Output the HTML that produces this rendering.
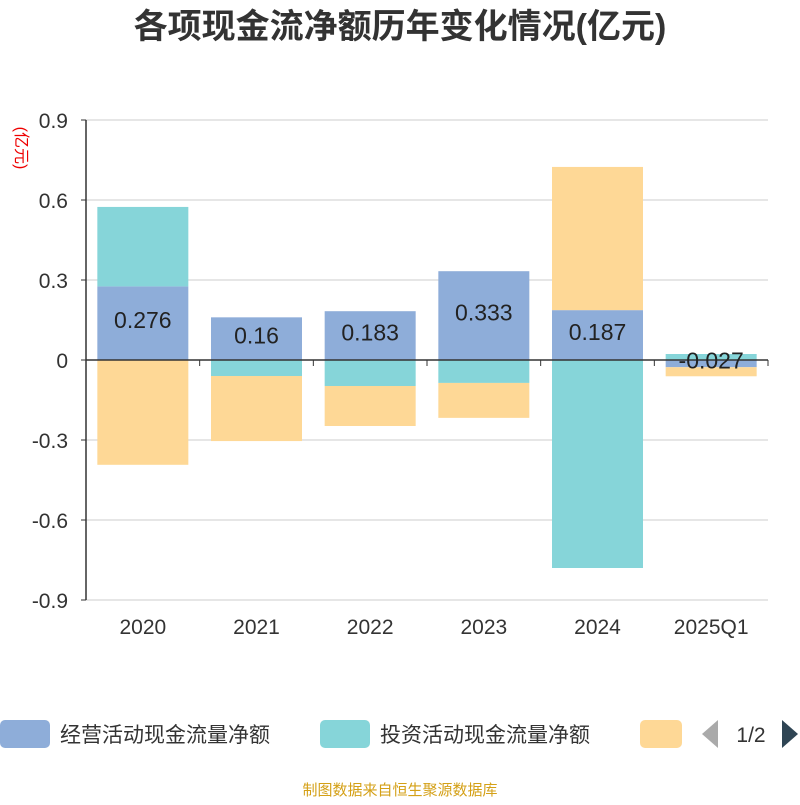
<!DOCTYPE html>
<html><head><meta charset="utf-8"><style>
body{margin:0;background:#fff;width:800px;height:800px;overflow:hidden;font-family:"Liberation Sans","Noto Sans CJK SC",sans-serif}
</style></head><body>
<svg width="800" height="800" xmlns="http://www.w3.org/2000/svg" font-family="Liberation Sans, Noto Sans CJK SC, sans-serif">
<text x="400" y="38" text-anchor="middle" font-size="34" font-weight="bold" fill="#333">各项现金流净额历年变化情况(亿元)</text>
<text transform="translate(16,148) rotate(90)" text-anchor="middle" font-size="16" fill="#e00">(亿元)</text>
<g id="grid"></g><g id="bars"></g><g id="axes"></g><g id="labels"></g>
<g>
<rect x="0" y="720" width="50" height="28" rx="5" fill="#8eadd9"/>
<text x="60" y="742" font-size="21" fill="#333">经营活动现金流量净额</text>
<rect x="320" y="720" width="50" height="28" rx="5" fill="#86d5d9"/>
<text x="380" y="742" font-size="21" fill="#333">投资活动现金流量净额</text>
<rect x="640" y="720" width="42" height="28" rx="5" fill="#fed896"/>
<polygon points="718,720 718,748 702,734" fill="#aaa"/>
<text x="751" y="742" text-anchor="middle" font-size="21" fill="#333">1/2</text>
<polygon points="782,720 782,748 798,734" fill="#2f4554"/>
</g>
<text x="400" y="795" text-anchor="middle" font-size="15" fill="#d4a017">制图数据来自恒生聚源数据库</text>
</svg>
<script>
const categories=["2020","2021","2022","2023","2024","2025Q1"];
const operating=[0.276,0.16,0.183,0.333,0.187,-0.027];
const investing=[0.298,-0.06,-0.0975,-0.086,-0.78,0.0225];
const financing=[-0.393,-0.244,-0.15,-0.131,0.537,-0.034];
const yTicks=[0.9,0.6,0.3,0,-0.3,-0.6,-0.9];
const tickLabels=["0.9","0.6","0.3","0","-0.3","-0.6","-0.9"];
const NS="http://www.w3.org/2000/svg";
const x0=86,x1=768,yTop=120,yBot=600,yMin=-0.9,yMax=0.9;
const y=v=>yTop+(yMax-v)/(yMax-yMin)*(yBot-yTop);
const bw=(x1-x0)/categories.length;
const xc=i=>x0+bw*(i+0.5);
function mk(tag,attrs,parent){const e=document.createElementNS(NS,tag);for(const k in attrs)e.setAttribute(k,attrs[k]);document.getElementById(parent).appendChild(e);return e;}
yTicks.forEach((t,i)=>{
 const g=mk("line",{x1:x0,x2:x1,y1:y(t),y2:y(t),stroke:"#ccc","stroke-width":1},"grid");
 
 
 const l=mk("text",{x:x0-18,y:y(t)+8,"text-anchor":"end","font-size":21,fill:"#333"},"axes");
 l.textContent=tickLabels[i];
 
 
});
const series=[[operating,"#8eadd9","operating"],[investing,"#86d5d9","investing"],[financing,"#fed896","financing"]];
categories.forEach((c,i)=>{
 let pos=0,neg=0;const w=91;
 series.forEach(([arr,col,nm])=>{
  const v=arr[i];let a,b;
  if(v>=0){a=pos;b=pos+v;pos=b;}else{a=neg;b=neg+v;neg=b;}
  const r=mk("rect",{x:xc(i)-w/2,y:Math.min(y(a),y(b)),width:w,height:Math.abs(y(a)-y(b)),fill:col},"bars");
  
  
 });
 const v=operating[i];
 const t=mk("text",{x:xc(i),y:(y(0)+y(v))/2+5,"text-anchor":"middle","font-size":23,fill:"#222"},"labels");
 t.textContent=String(v);
 
 
 const xl=mk("text",{x:xc(i),y:634,"text-anchor":"middle","font-size":21,fill:"#333"},"axes");
 xl.textContent=c;
 
 
});
const ya=mk("line",{x1:x0,x2:x0,y1:yTop,y2:yBot,stroke:"#333","stroke-width":1.5},"axes");


yTicks.forEach(t=>{const k=mk("line",{x1:x0-5,x2:x0,y1:y(t),y2:y(t),stroke:"#333"},"axes");
 
 });
const xa=mk("line",{x1:x0,x2:x1,y1:y(0),y2:y(0),stroke:"#333","stroke-width":1.5},"axes");


for(let i=0;i<=categories.length;i++){const k=mk("line",{x1:x0+bw*i,x2:x0+bw*i,y1:y(0),y2:y(0)+6,stroke:"#333"},"axes");
 
 }
</script>
</body></html>
